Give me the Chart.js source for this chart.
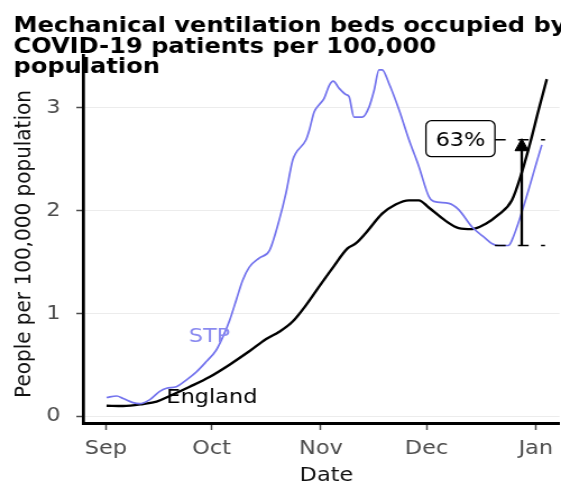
<!DOCTYPE html>
<html>
<head>
<meta charset="utf-8">
<script src="https://cdn.jsdelivr.net/npm/chart.js@4/dist/chart.umd.min.js"></script>
<style>
html,body{margin:0;padding:0;background:#fff;overflow:hidden}
canvas{display:block}
</style>
</head>
<body>
<canvas id="c" width="500" height="483" style="width:561px;height:483px"></canvas>
<script>
// ---- text ----
const titleLines = ['Mechanical ventilation beds occupied by', 'COVID-19 patients per 100,000', 'population'];
const xAxisTitle = 'Date';
const yAxisTitle = 'People per 100,000 population';

// ---- ticks (x in days since 1 Sep) ----
const xTickDays = [0, 30, 61, 91, 122];
const xTickLabels = ['Sep', 'Oct', 'Nov', 'Dec', 'Jan'];
const yTickValues = [0, 1, 2, 3];

// ---- series ----
const englandDays = [0.2, 4.9, 10.6, 14.4, 18.1, 23.8, 29.4, 35.1, 40.7, 45.5, 49.2, 53.0, 56.8, 60.5, 64.3, 68.5, 70.9, 73.7, 78.4, 82.2, 86.0, 88.8, 91.6, 96.4, 100.1, 103.9, 107.7, 111.4, 115.2, 118.0, 120.4, 122.7, 125.1];
const englandValues = [0.10, 0.097, 0.117, 0.14, 0.195, 0.285, 0.38, 0.50, 0.63, 0.75, 0.82, 0.92, 1.08, 1.26, 1.44, 1.63, 1.68, 1.78, 1.97, 2.06, 2.10, 2.10, 2.03, 1.90, 1.83, 1.82, 1.87, 1.96, 2.10, 2.37, 2.66, 2.97, 3.28];

const stpDays = [0.2, 3.1, 4.9, 7.7, 9.6, 12.5, 15.3, 17.2, 20.0, 22.8, 25.7, 28.5, 31.3, 33.2, 35.1, 37.0, 38.8, 40.7, 43.6, 46.4, 49.2, 51.1, 53.0, 53.9, 56.8, 57.7, 59.1, 60.5, 61.9, 63.4, 64.5, 66.2, 68.1, 69.0, 70.4, 72.8, 74.7, 76.1, 77.5, 78.4, 80.3, 83.2, 86.0, 88.8, 91.6, 93.0, 97.3, 100.1, 103.9, 107.7, 109.5, 111.4, 114.2, 115.2, 123.7];
const stpValues = [0.18, 0.195, 0.17, 0.13, 0.12, 0.16, 0.24, 0.27, 0.285, 0.35, 0.43, 0.53, 0.64, 0.77, 0.93, 1.13, 1.32, 1.45, 1.54, 1.61, 1.91, 2.17, 2.49, 2.56, 2.69, 2.78, 2.96, 3.03, 3.09, 3.22, 3.26, 3.19, 3.13, 3.11, 2.91, 2.91, 3.01, 3.17, 3.37, 3.37, 3.24, 2.98, 2.69, 2.43, 2.14, 2.09, 2.07, 2.01, 1.84, 1.73, 1.68, 1.66, 1.66, 1.71, 2.64];

// ---- series labels (day, value at baseline) ----
const seriesLabelText = ['STP', 'England'];
const seriesLabelDays = [29.4, 30.1];
const seriesLabelValues = [0.72, 0.124];

// ---- change annotation ----
const changeText = '63%';
const changeLevels = [1.66, 2.69];
const changeArrowDay = 118.0;
const changeDashDays = [110.4, 124.6];
const changeLabelPos = [100.6, 2.70];

const FONT = '"DejaVu Sans", "Liberation Sans", sans-serif';
Chart.defaults.font.family = FONT;

const toPts = (days, vals) => days.map((d, i) => ({x: d, y: vals[i]}));

const decor = {
  id: 'decor',
  beforeDraw(chart) {
    const ctx = chart.ctx;
    ctx.save();
    ctx.fillStyle = '#fff';
    ctx.fillRect(0, 0, chart.width, chart.height);
    ctx.restore();
  },
  afterDraw(chart) {
    const {ctx, scales: {x, y}} = chart;
    ctx.save();
    // dashed reference lines
    ctx.strokeStyle = '#000';
    ctx.lineWidth = 1.4;
    ctx.setLineDash([9.5, 11]);
    for (const v of changeLevels) {
      const py = y.getPixelForValue(v);
      ctx.beginPath();
      ctx.moveTo(x.getPixelForValue(changeDashDays[0]), py);
      ctx.lineTo(x.getPixelForValue(changeDashDays[1]), py);
      ctx.stroke();
    }
    ctx.setLineDash([]);
    // arrow
    const ax = x.getPixelForValue(changeArrowDay);
    const y0 = y.getPixelForValue(changeLevels[0]);
    const y1 = y.getPixelForValue(changeLevels[1]);
    ctx.lineWidth = 2.3;
    ctx.beginPath();
    ctx.moveTo(ax, y0);
    ctx.lineTo(ax, y1 + 8);
    ctx.stroke();
    ctx.fillStyle = '#000';
    ctx.lineWidth = 1;
    ctx.beginPath();
    ctx.moveTo(ax, y1 - 1);
    ctx.lineTo(ax - 6, y1 + 11);
    ctx.lineTo(ax + 6, y1 + 11);
    ctx.closePath();
    ctx.fill();
    ctx.stroke();
    // label box
    const lx = x.getPixelForValue(changeLabelPos[0]);
    const ly = y.getPixelForValue(changeLabelPos[1]);
    const bw = 61.5, bh = 36, r = 5;
    ctx.beginPath();
    ctx.roundRect(lx - bw / 2, ly - bh / 2, bw, bh, r);
    ctx.fillStyle = '#fff';
    ctx.fill();
    ctx.strokeStyle = '#000';
    ctx.lineWidth = 1.3;
    ctx.stroke();
    ctx.fillStyle = '#000';
    ctx.font = '20px ' + FONT;
    ctx.textAlign = 'center';
    ctx.textBaseline = 'alphabetic';
    ctx.fillText(changeText, lx, ly + 7.5);
    // series labels
    const labelColors = ['#8a8af0', '#000'];
    for (let i = 0; i < seriesLabelText.length; i++) {
      ctx.fillStyle = labelColors[i];
      ctx.fillText(seriesLabelText[i], x.getPixelForValue(seriesLabelDays[i]), y.getPixelForValue(seriesLabelValues[i]));
    }
    // axis titles
    ctx.fillStyle = '#111';
    ctx.font = '20px ' + FONT;
    ctx.textAlign = 'center';
    ctx.fillText(xAxisTitle, 291, 481);
    ctx.save();
    ctx.translate(26.5, 244);
    ctx.rotate(-Math.PI / 2);
    ctx.fillText(yAxisTitle, 0, 0);
    ctx.restore();
    // chart title
    ctx.fillStyle = '#000';
    ctx.font = 'bold 21.5px ' + FONT;
    ctx.textAlign = 'left';
    const baselines = [31.7, 53.2, 73.4];
    titleLines.forEach((t, i) => ctx.fillText(t, 12, baselines[i]));
    ctx.restore();
  }
};

new Chart(document.getElementById('c'), {
  type: 'line',
  data: {
    datasets: [
      {label: 'STP', data: toPts(stpDays, stpValues), borderColor: '#7474ee', borderWidth: 1.7,
       pointRadius: 0, cubicInterpolationMode: 'monotone', fill: false},
      {label: 'England', data: toPts(englandDays, englandValues), borderColor: '#000', borderWidth: 2.4,
       pointRadius: 0, cubicInterpolationMode: 'monotone', fill: false}
    ]
  },
  options: {
    responsive: false,
    animation: false,
    devicePixelRatio: 1,
    layout: {padding: {top: 55, left: 0, right: 0, bottom: 0}},
    plugins: {legend: {display: false}, tooltip: {enabled: false}, title: {display: false}},
    scales: {
      x: {
        type: 'linear', min: -6.47, max: 128.7,
        afterBuildTicks: s => { s.ticks = xTickDays.map(v => ({value: v})); },
        afterFit: s => { s.height = 60; },
        ticks: {
          callback: v => xTickLabels[xTickDays.indexOf(v)],
          color: '#4d4d4d', font: {size: 20}, padding: 7, maxRotation: 0, autoSkip: false
        },
        grid: {drawOnChartArea: false, tickLength: 7, tickColor: '#4d4d4d', tickWidth: 1.5},
        border: {display: true, color: '#000', width: 3}
      },
      y: {
        type: 'linear', min: -0.068, max: 3.515,
        afterBuildTicks: s => { s.ticks = yTickValues.map(v => ({value: v})); },
        afterFit: s => { s.width = 74; },
        ticks: {color: '#4d4d4d', font: {size: 20}, padding: 14, callback: v => String(v)},
        grid: {color: '#ececec', lineWidth: 1, tickLength: 6, tickColor: '#4d4d4d', tickWidth: 1.5},
        border: {display: true, color: '#000', width: 2.7}
      }
    }
  },
  plugins: [decor]
});
</script>
</body>
</html>
